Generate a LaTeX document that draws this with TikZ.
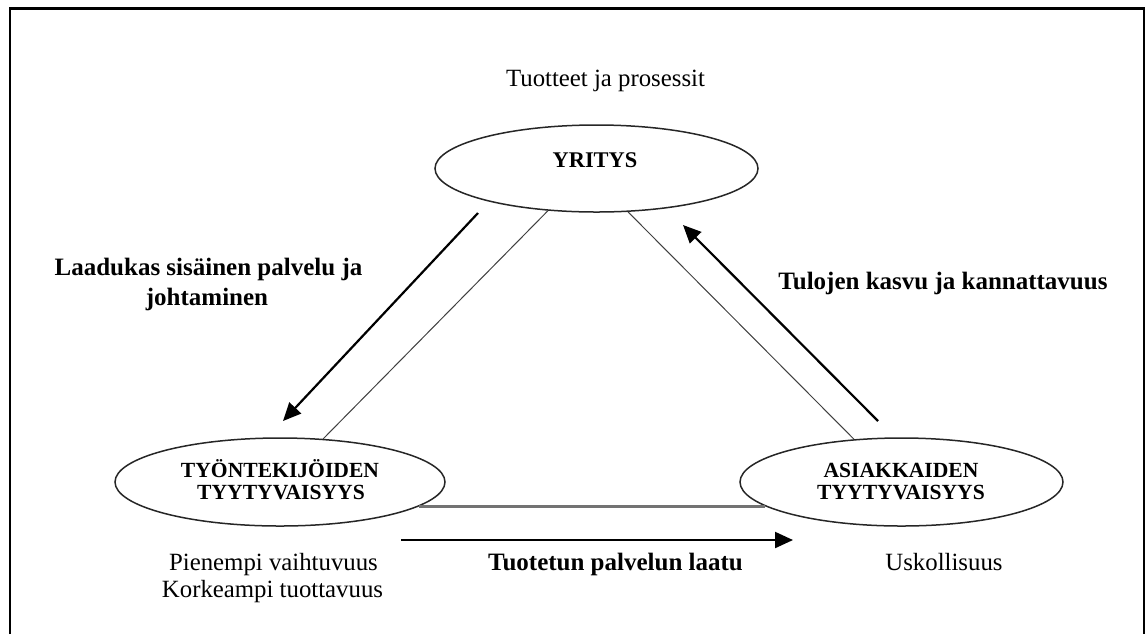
\documentclass[tikz,border=0pt]{standalone}
\usepackage{fontspec}
\setmainfont{Liberation Serif}
\usetikzlibrary{shapes.geometric,arrows.meta}

\tikzset{
  oval/.style={ellipse, draw=black!85, line width=0.75pt, inner sep=0pt, fill=white},
  plain/.style={anchor=base, inner sep=0pt, font=\fontsize{12.4}{14}\selectfont},
  heading/.style={anchor=base, inner sep=0pt, font=\fontsize{12.5}{14}\selectfont\bfseries},
  ovaltext/.style={anchor=base, inner sep=0pt, font=\fontsize{10.8}{11}\selectfont\bfseries},
  link/.style={draw=black!75, line width=0.5pt},
  flow/.style={draw=black, line width=1.1pt, -{Triangle[length=9pt,width=8pt]}},
  frame/.style={draw=black, line width=1.4pt}
}

\begin{document}
\begin{tikzpicture}[x=0.5pt,y=-0.5pt]
  \useasboundingbox (0,0) rectangle (1146,634);

  % outer frame, open at the bottom
  \coordinate (fbl) at (10,634);
  \coordinate (ftl) at (10,8.5);
  \coordinate (ftr) at (1144,8.5);
  \coordinate (fbr) at (1144,634);
  \draw[frame] (fbl) -- (ftl) -- (ftr) -- (fbr);

  % the three actors
  \node[oval, minimum width=161.5pt, minimum height=43.5pt] (yr) at (596.5,168.5) {};
  \node[oval, minimum width=165pt, minimum height=44pt] (ty) at (280,482) {};
  \node[oval, minimum width=161.5pt, minimum height=44pt] (as) at (901.5,482) {};

  \node[ovaltext, font=\fontsize{11.2}{12}\selectfont\bfseries] (yrt) at (595,167.3) {YRITYS};
  \node[ovaltext] (tyt1) at (280,477.3) {TYÖNTEKIJÖIDEN};
  \node[ovaltext] (tyt2) at (281,499.3) {TYYTYVAISYYS};
  \node[ovaltext] (ast1) at (901,477.3) {ASIAKKAIDEN};
  \node[ovaltext] (ast2) at (901,499.3) {TYYTYVAISYYS};

  % triangle sides between the actors
  \draw[link] (yr.221.3) -- (ty.45.7);
  \draw[link] (yr.306) -- (as.138.7);
  \draw[draw=black!55, line width=1.1pt] (ty.-10.4) -- (ty.-10.4 -| as.190.7);

  % flow arrows
  \coordinate (a1s) at (478,213);
  \coordinate (a1e) at (283,421);
  \coordinate (a2s) at (878,421);
  \coordinate (a2e) at (683,225);
  \coordinate (a3s) at (401,540);
  \coordinate (a3e) at (793,540);
  \draw[flow] (a1s) -- (a1e);
  \draw[flow] (a2s) -- (a2e);
  \draw[flow] (a3s) -- (a3e);

  % labels
  \node[plain] (top) at (605.5,86.5) {Tuotteet ja prosessit};
  \node[heading] (l1) at (208.5,275) {Laadukas sisäinen palvelu ja};
  \node[heading] (l2) at (207,305) {johtaminen};
  \node[heading] (r1) at (943,289) {Tulojen kasvu ja kannattavuus};
  \node[heading] (b1) at (615.5,570) {Tuotetun palvelun laatu};
  \node[plain] (p1) at (273.5,570.5) {Pienempi vaihtuvuus};
  \node[plain] (p2) at (272.5,597.5) {Korkeampi tuottavuus};
  \node[plain] (u1) at (944,570.5) {Uskollisuus};
\end{tikzpicture}
\end{document}
